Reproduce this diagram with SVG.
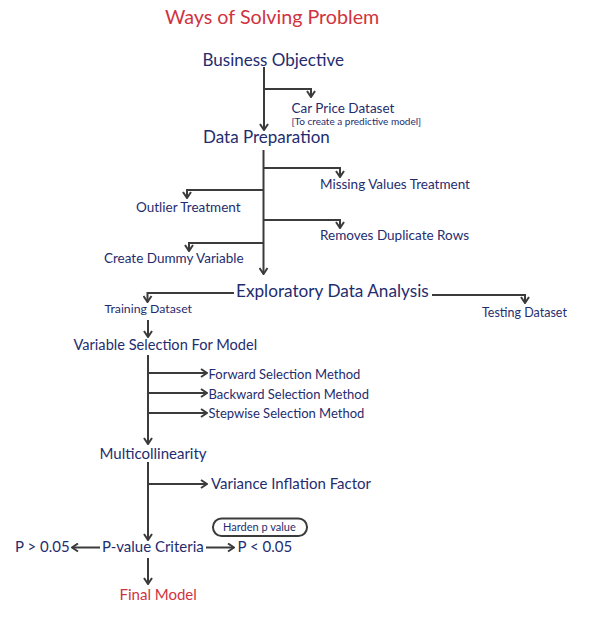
<svg xmlns="http://www.w3.org/2000/svg" width="596" height="623" viewBox="0 0 596 623">
<style>
text{font-family:Lato,"Noto Sans",sans-serif;fill:#1f2d6e}
.red{fill:#d0333e}
.t1{font-size:17px}
.t2{font-size:15px}
.t3{font-size:13px}
.t4{font-size:13.5px}
.t5{font-size:10px}
.ar{fill:none;stroke:#3b3b3b;stroke-width:2;marker-end:url(#ah)}
</style>
<defs>
<marker id="ah" viewBox="0 0 10 10" refX="9" refY="5" markerWidth="10" markerHeight="10" markerUnits="userSpaceOnUse" orient="auto">
<path d="M3,1 L9,5 L3,9" fill="none" stroke="#3b3b3b" stroke-width="2"/>
</marker>
</defs>
<rect width="596" height="623" fill="#ffffff"/>
<text x="165" y="24" class="red" style="font-size:19.7px">Ways of Solving Problem</text>
<g id="connectors">
<path class="ar" d="M264,67 V130"/>
<path class="ar" d="M264,89 H311 V97"/>
<path class="ar" d="M263.5,150 V274"/>
<path class="ar" d="M263.5,168 H340 V177"/>
<path class="ar" d="M263.5,190 H187 V198"/>
<path class="ar" d="M263.5,220 H340 V228"/>
<path class="ar" d="M263.5,243 H189 V251"/>
<path class="ar" d="M234,293 H147.5 V302"/>
<path class="ar" d="M432,295 H525 V303"/>
<path class="ar" d="M148,320 V337"/>
<path class="ar" d="M148,355 V444"/>
<path class="ar" d="M148,373 H207"/>
<path class="ar" d="M148,393 H207"/>
<path class="ar" d="M148,413 H207"/>
<path class="ar" d="M148,462 V540"/>
<path class="ar" d="M148,484 H207"/>
<path class="ar" d="M100,547.5 H72"/>
<path class="ar" d="M206,547.5 H234"/>
<path class="ar" d="M148,558 V584"/>
</g>
<g id="n-business"><text x="202.5" y="66" class="t1">Business Objective</text></g>
<g id="n-car"><text x="291.5" y="113" class="t4">Car Price Dataset</text><text x="291.5" y="124.5" class="t5">[To create a predictive model]</text></g>
<g id="n-dataprep"><text x="203" y="143" class="t1">Data Preparation</text></g>
<g id="n-missing"><text x="320" y="188.5" class="t4">Missing Values Treatment</text></g>
<g id="n-outlier"><text x="136" y="211.5" class="t4">Outlier Treatment</text></g>
<g id="n-dup"><text x="320" y="239.5" class="t4">Removes Duplicate Rows</text></g>
<g id="n-dummy"><text x="104" y="263" class="t4">Create Dummy Variable</text></g>
<g id="n-eda"><text x="236" y="297" style="font-size:17.2px">Exploratory Data Analysis</text></g>
<g id="n-train"><text x="104.5" y="313" style="font-size:12.3px">Training Dataset</text></g>
<g id="n-test"><text x="482" y="317" style="font-size:12.5px">Testing Dataset</text></g>
<g id="n-varsel"><text x="73.5" y="350" style="font-size:14.6px">Variable Selection For Model</text></g>
<g id="n-fwd"><text x="208.5" y="378.5" class="t3">Forward Selection Method</text></g>
<g id="n-bwd"><text x="208.5" y="398.5" class="t3">Backward Selection Method</text></g>
<g id="n-step"><text x="208.5" y="418" class="t3">Stepwise Selection Method</text></g>
<g id="n-multi"><text x="99.5" y="458.5" class="t2">Multicollinearity</text></g>
<g id="n-vif"><text x="211" y="488.5" class="t2">Variance Inflation Factor</text></g>
<g id="n-harden"><rect x="213" y="518.5" width="94" height="17.5" rx="8.5" fill="none" stroke="#3b3b3b" stroke-width="2"/><text x="223" y="531" style="font-size:11px">Harden p value</text></g>
<g id="n-pcrit"><text x="102" y="552" class="t2">P-value Criteria</text></g>
<g id="n-pgt"><text x="15" y="552" class="t2">P &gt; 0.05</text></g>
<g id="n-plt"><text x="237.5" y="552" class="t2">P &lt; 0.05</text></g>
<g id="n-final"><text x="119.5" y="600" class="t2 red">Final Model</text></g>
</svg>
